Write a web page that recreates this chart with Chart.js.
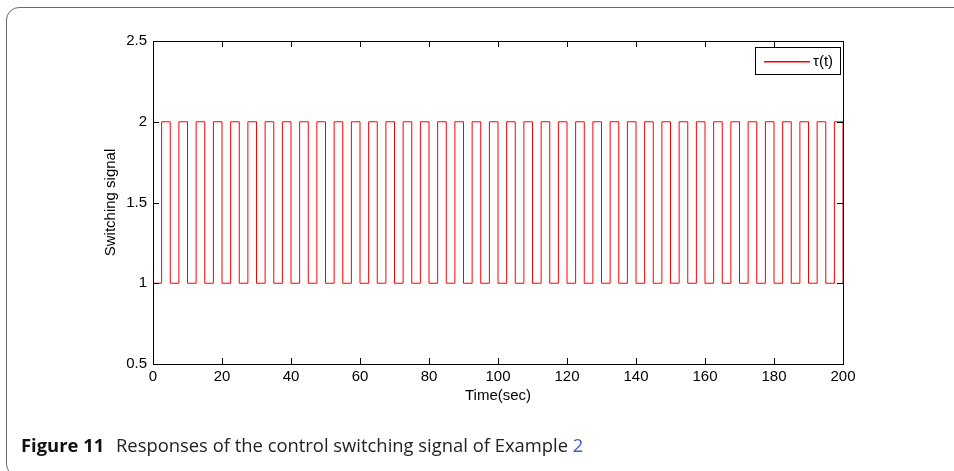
<!DOCTYPE html>
<html>
<head>
<meta charset="utf-8">
<script src="https://cdn.jsdelivr.net/npm/chart.js@4/dist/chart.umd.min.js"></script>
<style>
  html, body { margin: 0; padding: 0; background: #fff; }
  body { width: 954px; height: 471px; position: relative; overflow: hidden; }
  #frame { position: absolute; left: 6px; top: 7px; width: 1000px; height: 470px;
           border: 1.5px solid #6a6a6a; border-radius: 13px; box-sizing: border-box; }
  #wrap { position: absolute; left: 0; top: 0; width: 954px; height: 471px; }
  #caption { position: absolute; left: 21px; top: 432px; font-family: "Open Sans", sans-serif;
             font-size: 18.4px; color: #222; white-space: nowrap; }
  #caption b { font-weight: 700; color: #111; margin-right: 7px; }
  #caption span { color: #3a5fcd; }
</style>
</head>
<body>
<div id="frame"></div>
<div id="wrap"><canvas id="c" width="954" height="471"></canvas></div>
<div id="caption"><b>Figure 11</b> Responses of the control switching signal of Example <span>2</span></div>
<script>
// Switching instants (s) and the active mode value from that instant on
const switchTimes = [0, 2.5, 5, 7.5, 10, 12.5, 15, 17.5, 20, 22.5,
  25, 27.5, 30, 32.5, 35, 37.5, 40, 42.5, 45, 47.5,
  50, 52.5, 55, 57.5, 60, 62.5, 65, 67.5, 70, 72.5,
  75, 77.5, 80, 82.5, 85, 87.5, 90, 92.5, 95, 97.5,
  100, 102.5, 105, 107.5, 110, 112.5, 115, 117.5, 120, 122.5,
  125, 127.5, 130, 132.5, 135, 137.5, 140, 142.5, 145, 147.5,
  150, 152.5, 155, 157.5, 160, 162.5, 165, 167.5, 170, 172.5,
  175, 177.5, 180, 182.5, 185, 187.5, 190, 192.5, 195, 197.5, 200];
const modeValues = [1, 2, 1, 2, 1, 2, 1, 2, 1, 2,
  1, 2, 1, 2, 1, 2, 1, 2, 1, 2,
  1, 2, 1, 2, 1, 2, 1, 2, 1, 2,
  1, 2, 1, 2, 1, 2, 1, 2, 1, 2,
  1, 2, 1, 2, 1, 2, 1, 2, 1, 2,
  1, 2, 1, 2, 1, 2, 1, 2, 1, 2,
  1, 2, 1, 2, 1, 2, 1, 2, 1, 2,
  1, 2, 1, 2, 1, 2, 1, 2, 1, 2, 1];
const seriesLabel = 'τ(t)';
const seriesColor = '#ff0000';
const xTickValues = [0, 20, 40, 60, 80, 100, 120, 140, 160, 180, 200];
const yTickValues = [0.5, 1, 1.5, 2, 2.5];
const xTitle = 'Time(sec)';
const yTitle = 'Switching signal';

const points = switchTimes.map((t, i) => ({ x: t, y: modeValues[i] }));
const FONT = 'Liberation Sans, Arial, sans-serif';

const boxPlugin = {
  id: 'matlabBox',
  afterDatasetsDraw(chart) {
    const { ctx, chartArea: a, scales } = chart;
    const L = 6;
    ctx.save();
    ctx.strokeStyle = '#000';
    ctx.lineWidth = 1;
    ctx.beginPath();
    scales.x.ticks.forEach(t => {
      const px = Math.round(scales.x.getPixelForValue(t.value)) + 0.5;
      ctx.moveTo(px, a.bottom); ctx.lineTo(px, a.bottom - L);
      ctx.moveTo(px, a.top); ctx.lineTo(px, a.top + L);
    });
    scales.y.ticks.forEach(t => {
      const py = Math.round(scales.y.getPixelForValue(t.value)) + 0.5;
      ctx.moveTo(a.left, py); ctx.lineTo(a.left + L, py);
      ctx.moveTo(a.right, py); ctx.lineTo(a.right - L, py);
    });
    ctx.stroke();
    ctx.strokeRect(Math.round(a.left) + 0.5, Math.round(a.top) + 0.5,
                   Math.round(a.right - a.left), Math.round(a.bottom - a.top));
    // legend box
    const ds = chart.data.datasets[0];
    const bw = 85, bh = 27;
    const bx = Math.round(a.right) - 3 - bw, by = Math.round(a.top) + 6;
    ctx.fillStyle = '#fff';
    ctx.fillRect(bx, by, bw, bh);
    ctx.strokeStyle = '#000';
    ctx.strokeRect(bx + 0.5, by + 0.5, bw, bh);
    ctx.fillStyle = seriesColor;
    ctx.fillRect(bx + 9, by + 14, 46, 1.5);
    ctx.fillStyle = '#000';
    ctx.font = '15px ' + FONT;
    ctx.textBaseline = 'middle';
    ctx.textAlign = 'left';
    ctx.fillText(ds.label, bx + 58, by + 14.5);
    ctx.restore();
  }
};

new Chart(document.getElementById('c'), {
  type: 'line',
  data: {
    datasets: [{
      label: seriesLabel,
      data: points,
      stepped: true,
      borderColor: seriesColor,
      borderWidth: 1,
      pointRadius: 0,
      fill: false
    }]
  },
  options: {
    responsive: false,
    animation: false,
    events: [],
    layout: { padding: { left: 90, top: 41, right: 111, bottom: 57 } },
    plugins: { legend: { display: false }, tooltip: { enabled: false } },
    scales: {
      x: {
        type: 'linear', min: 0, max: 200,
        afterBuildTicks: s => { s.ticks = xTickValues.map(v => ({ value: v })); },
        afterFit: s => { s.height = 50; },
        grid: { display: false, drawTicks: false },
        border: { display: false },
        ticks: { font: { family: FONT, size: 15 }, color: '#000', padding: 4, maxRotation: 0, autoSkip: false,
                 callback: v => String(v) },
        title: { display: true, text: xTitle, font: { family: FONT, size: 15 }, color: '#000',
                 padding: { top: 0, bottom: 9 } }
      },
      y: {
        type: 'linear', min: 0.5, max: 2.5,
        afterBuildTicks: s => { s.ticks = yTickValues.map(v => ({ value: v })); },
        afterFit: s => { s.width = 63; },
        grid: { display: false, drawTicks: false },
        border: { display: false },
        ticks: { font: { family: FONT, size: 15 }, color: '#000', padding: 6, autoSkip: false,
                 callback: v => String(v) },
        title: { display: true, text: yTitle, font: { family: FONT, size: 15 }, color: '#000',
                 padding: { top: 12, bottom: 0 } }
      }
    }
  },
  plugins: [boxPlugin]
});
</script>
</body>
</html>
